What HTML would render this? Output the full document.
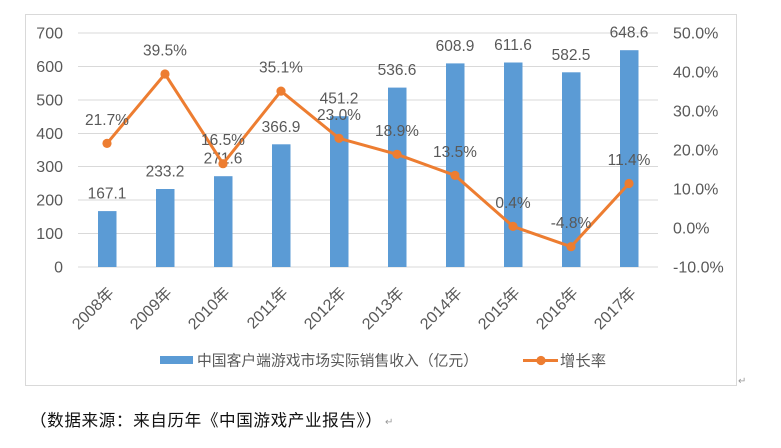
<!DOCTYPE html>
<html><head><meta charset="utf-8"><style>
html,body{margin:0;padding:0;background:#fff;}
svg{display:block;}
text{font-family:"Liberation Sans","Noto Sans CJK SC",sans-serif;}
</style></head><body>
<svg width="781" height="448" viewBox="0 0 781 448" xmlns="http://www.w3.org/2000/svg">
<rect x="0" y="0" width="781" height="448" fill="#fff"/>
<rect x="25.5" y="14.5" width="711" height="371" fill="none" stroke="#D9D9D9" stroke-width="1"/>
<g stroke="#D9D9D9" stroke-width="1" shape-rendering="crispEdges">
<line x1="78" x2="658" y1="33" y2="33"/>
<line x1="78" x2="658" y1="66.4" y2="66.4"/>
<line x1="78" x2="658" y1="99.9" y2="99.9"/>
<line x1="78" x2="658" y1="133.3" y2="133.3"/>
<line x1="78" x2="658" y1="166.7" y2="166.7"/>
<line x1="78" x2="658" y1="200.1" y2="200.1"/>
<line x1="78" x2="658" y1="233.6" y2="233.6"/>
<line x1="78" x2="658" y1="267" y2="267"/>
</g>
<g fill="#595959" font-size="16" text-anchor="end">
<text x="63" y="38.5">700</text>
<text x="63" y="71.9">600</text>
<text x="63" y="105.4">500</text>
<text x="63" y="138.8">400</text>
<text x="63" y="172.2">300</text>
<text x="63" y="205.6">200</text>
<text x="63" y="239.1">100</text>
<text x="63" y="272.5">0</text>
</g>
<g fill="#595959" font-size="16" text-anchor="start">
<text x="673" y="38.5">50.0%</text>
<text x="673" y="77.5">40.0%</text>
<text x="673" y="116.5">30.0%</text>
<text x="673" y="155.5">20.0%</text>
<text x="673" y="194.5">10.0%</text>
<text x="673" y="233.5">0.0%</text>
<text x="673" y="272.5">-10.0%</text>
</g>
<g fill="#5B9BD5">
<rect x="98" y="211.1" width="18.5" height="55.9"/>
<rect x="156" y="189.0" width="18.5" height="78"/>
<rect x="214" y="176.2" width="18.5" height="90.8"/>
<rect x="272" y="144.3" width="18.5" height="122.7"/>
<rect x="330" y="116.2" width="18.5" height="150.8"/>
<rect x="388" y="87.6" width="18.5" height="179.4"/>
<rect x="446" y="63.4" width="18.5" height="203.6"/>
<rect x="504" y="62.5" width="18.5" height="204.5"/>
<rect x="562" y="72.3" width="18.5" height="194.7"/>
<rect x="620" y="50.2" width="18.5" height="216.8"/>
</g>
<g fill="#595959" font-size="15.5" text-anchor="middle">
<text x="107" y="198.6">167.1</text>
<text x="165" y="176.5">233.2</text>
<text x="223" y="163.7">271.6</text>
<text x="281" y="131.8">366.9</text>
<text x="339" y="103.7">451.2</text>
<text x="397" y="75.1">536.6</text>
<text x="455" y="50.9">608.9</text>
<text x="513" y="50.0">611.6</text>
<text x="571" y="59.8">582.5</text>
<text x="629" y="37.7">648.6</text>
</g>
<polyline fill="none" stroke="#ED7D31" stroke-width="3" stroke-linejoin="round" points="107,143.4 165,74 223,163.7 281,91.1 339,138.3 397,154.3 455,175.4 513,226.4 571,246.7 629,183.5"/>
<g fill="#ED7D31">
<circle cx="107" cy="143.4" r="4.6"/>
<circle cx="165" cy="74" r="4.6"/>
<circle cx="223" cy="163.7" r="4.6"/>
<circle cx="281" cy="91.1" r="4.6"/>
<circle cx="339" cy="138.3" r="4.6"/>
<circle cx="397" cy="154.3" r="4.6"/>
<circle cx="455" cy="175.4" r="4.6"/>
<circle cx="513" cy="226.4" r="4.6"/>
<circle cx="571" cy="246.7" r="4.6"/>
<circle cx="629" cy="183.5" r="4.6"/>
</g>
<g fill="#595959" font-size="15.5" text-anchor="middle">
<text x="107" y="124.9">21.7%</text>
<text x="165" y="55.5">39.5%</text>
<text x="223" y="145.2">16.5%</text>
<text x="281" y="72.6">35.1%</text>
<text x="339" y="119.8">23.0%</text>
<text x="397" y="135.8">18.9%</text>
<text x="455" y="156.9">13.5%</text>
<text x="513" y="207.9">0.4%</text>
<text x="571" y="228.2">-4.8%</text>
<text x="629" y="165">11.4%</text>
</g>
<g fill="#595959" font-size="16" text-anchor="end">
<text transform="translate(111,290) rotate(-45)" dy="0.35em">2008年</text>
<text transform="translate(169,290) rotate(-45)" dy="0.35em">2009年</text>
<text transform="translate(227,290) rotate(-45)" dy="0.35em">2010年</text>
<text transform="translate(285,290) rotate(-45)" dy="0.35em">2011年</text>
<text transform="translate(343,290) rotate(-45)" dy="0.35em">2012年</text>
<text transform="translate(401,290) rotate(-45)" dy="0.35em">2013年</text>
<text transform="translate(459,290) rotate(-45)" dy="0.35em">2014年</text>
<text transform="translate(517,290) rotate(-45)" dy="0.35em">2015年</text>
<text transform="translate(575,290) rotate(-45)" dy="0.35em">2016年</text>
<text transform="translate(633,290) rotate(-45)" dy="0.35em">2017年</text>
</g>
<rect x="160" y="356" width="33" height="8" fill="#5B9BD5"/>
<text x="197" y="365.5" fill="#595959" font-size="14.8" textLength="281" lengthAdjust="spacing">中国客户端游戏市场实际销售收入（亿元）</text>
<line x1="523" y1="360.5" x2="558" y2="360.5" stroke="#ED7D31" stroke-width="3"/>
<circle cx="541" cy="360.5" r="4.6" fill="#ED7D31"/>
<text x="560" y="366" fill="#595959" font-size="15.3" textLength="46" lengthAdjust="spacing">增长率</text>
<text x="738" y="384" fill="#999" font-size="10">↵</text>
<text x="30" y="426" fill="#111" font-size="16.6" textLength="352" lengthAdjust="spacing">（数据来源：来自历年《中国游戏产业报告》）</text>
<text x="385" y="425" fill="#999" font-size="10">↵</text>
</svg>
</body></html>
